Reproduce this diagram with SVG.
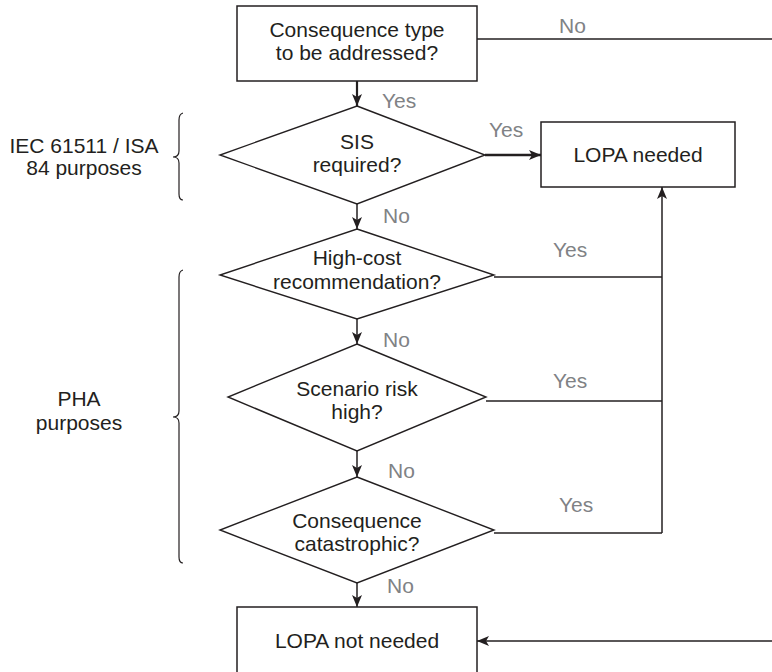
<svg xmlns="http://www.w3.org/2000/svg" width="772" height="672" viewBox="0 0 772 672">
<defs>
<marker id="ah" markerUnits="userSpaceOnUse" markerWidth="12" markerHeight="10" viewBox="0 0 12 10" refX="12" refY="5" orient="auto">
<path d="M0,0 L12,5 L0,10 L3,5 Z" fill="#231f20"/>
</marker>
<style>
.box{fill:#fff;stroke:#231f20;stroke-width:1.5}
.dia{fill:#fff;stroke:#231f20;stroke-width:1.4}
.t{font-family:"Liberation Sans",Arial,sans-serif;font-size:21px;fill:#231f20;text-anchor:middle}
.lbl{font-family:"Liberation Sans",Arial,sans-serif;font-size:21px;fill:#808285}
.side{font-family:"Liberation Sans",Arial,sans-serif;font-size:21px;fill:#231f20;text-anchor:middle}
.ln{fill:none;stroke:#231f20;stroke-width:1.3}
.arr{fill:none;stroke:#231f20;stroke-width:1.5;marker-end:url(#ah)}
.brace{fill:none;stroke:#231f20;stroke-width:1.2}
</style>
</defs>
<rect width="772" height="672" fill="#fff"/>

<g id="connectors">
<line class="arr" x1="357" y1="81" x2="357" y2="106" style="stroke-width:2.2"/>
<line class="arr" x1="485" y1="155" x2="541" y2="155" style="stroke-width:2.5"/>
<line class="arr" x1="357" y1="204" x2="357" y2="229"/>
<line class="arr" x1="357" y1="319" x2="357" y2="344"/>
<line class="arr" x1="357" y1="451" x2="357" y2="477"/>
<line class="arr" x1="357" y1="583" x2="357" y2="607"/>
<line class="ln" x1="477" y1="39" x2="772" y2="39"/>
<line class="arr" x1="772" y1="641" x2="477" y2="641"/>
<line class="ln" x1="494" y1="277" x2="662" y2="277"/>
<line class="ln" x1="486" y1="401" x2="662" y2="401"/>
<line class="ln" x1="494" y1="533" x2="662" y2="533"/>
<line class="arr" x1="662" y1="533" x2="662" y2="187"/>
</g>

<g id="labels">
<text class="lbl" x="559" y="33">No</text>
<text class="lbl" x="382" y="108">Yes</text>
<text class="lbl" x="489" y="137">Yes</text>
<text class="lbl" x="383" y="223">No</text>
<text class="lbl" x="553" y="257">Yes</text>
<text class="lbl" x="383" y="347">No</text>
<text class="lbl" x="553" y="388">Yes</text>
<text class="lbl" x="388" y="478">No</text>
<text class="lbl" x="559" y="512">Yes</text>
<text class="lbl" x="387" y="593">No</text>
</g>

<g id="n-consequence-type">
<rect class="box" x="237" y="6" width="240" height="75"/>
<text class="t" x="357" y="37">Consequence type</text>
<text class="t" x="357" y="60">to be addressed?</text>
</g>

<g id="n-sis">
<polygon class="dia" points="357,106 485,155 357,204 220,155"/>
<text class="t" x="357" y="149">SIS</text>
<text class="t" x="357" y="172">required?</text>
</g>

<g id="n-lopa-needed">
<rect class="box" x="541" y="122" width="194" height="65"/>
<text class="t" x="638" y="162">LOPA needed</text>
</g>

<g id="n-high-cost">
<polygon class="dia" points="357,229 494,275 357,319 220,275"/>
<text class="t" x="357" y="265">High-cost</text>
<text class="t" x="357" y="289">recommendation?</text>
</g>

<g id="n-scenario">
<polygon class="dia" points="357,344 486,397 357,451 228,397"/>
<text class="t" x="357" y="396">Scenario risk</text>
<text class="t" x="357" y="419">high?</text>
</g>

<g id="n-catastrophic">
<polygon class="dia" points="357,477 494,530 357,583 220,530"/>
<text class="t" x="357" y="528">Consequence</text>
<text class="t" x="357" y="551">catastrophic?</text>
</g>

<g id="n-lopa-not-needed">
<rect class="box" x="237" y="607" width="240" height="75"/>
<text class="t" x="357" y="648">LOPA not needed</text>
</g>

<g id="g-iec">
<path class="brace" d="M183,113 Q179,114 179,120 L179,151 Q179,157 173,157 Q179,157 179,163 L179,194 Q179,200 183,200"/>
<text class="side" x="84" y="153">IEC 61511 / ISA</text>
<text class="side" x="84" y="175">84 purposes</text>
</g>

<g id="g-pha">
<path class="brace" d="M183,270 Q179,271 179,277 L179,411 Q179,417 173,417 Q179,417 179,423 L179,557 Q179,563 183,563"/>
<text class="side" x="79" y="406">PHA</text>
<text class="side" x="79" y="430">purposes</text>
</g>
</svg>
